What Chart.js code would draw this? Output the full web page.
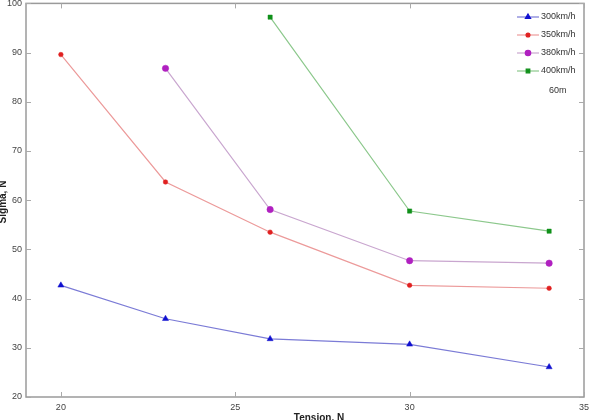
<!DOCTYPE html>
<html>
<head>
<meta charset="utf-8">
<script src="https://cdn.jsdelivr.net/npm/chart.js@4"></script>
<style>
html,body{margin:0;padding:0;background:#fff;overflow:hidden;}
#wrap{width:596px;height:420px;position:relative;overflow:hidden;}
#c{position:absolute;left:0;top:-6px;}
</style>
</head>
<body>
<div id="wrap"><canvas id="c" width="596" height="426"></canvas></div>
<script>
// ---- data ----
const tension = [20, 23, 26, 30, 34];
const s300 = [42.7, 35.9, 31.8, 30.7, 26.1];
const s350 = [89.6, 63.7, 53.5, 42.7, 42.1];
const s380 = [null, 86.8, 58.1, 47.7, 47.2];
const s400 = [null, null, 97.2, 57.8, 53.7];
const seriesNames = ['300km/h', '350km/h', '380km/h', '400km/h'];
const xTicks = [20, 25, 30, 35];
const yTicks = [20, 30, 40, 50, 60, 70, 80, 90, 100];
const xTitle = 'Tension, N';
const yTitle = 'Sigma, N';
const note = '60m';

function pts(arr){ return tension.map((x,i)=>({x:x, y:arr[i]})).filter(p=>p.y!==null); }

const OFF = 6; // canvas vertical offset
const styles = [
  {line:'#7b7bd6', mark:'#1010d0', ps:'triangle', r:3.5},
  {line:'#ec9a9a', mark:'#e02020', ps:'circle', r:2.3},
  {line:'#c9a6cf', mark:'#b020c0', ps:'circle', r:3.2},
  {line:'#8cc88c', mark:'#10901a', ps:'rect', r:3}
];
const allSeries = [s300, s350, s380, s400];

const datasets = allSeries.map((s,i)=>({
  label: seriesNames[i],
  data: pts(s),
  borderColor: styles[i].line,
  borderWidth: 1.2,
  pointStyle: styles[i].ps,
  pointRadius: styles[i].r,
  pointBackgroundColor: styles[i].mark,
  pointBorderColor: styles[i].mark,
  pointBorderWidth: 0.5,
  tension: 0,
  fill: false
}));

const AX = '#9a9a9a';
const FONT = '"Liberation Sans", Arial, sans-serif';

const decor = {
  id: 'decor',
  afterDraw(chart){
    const {ctx, chartArea:a, scales:{x, y}} = chart;
    ctx.save();
    ctx.strokeStyle = AX; ctx.lineWidth = 1.5;
    ctx.strokeRect(a.left, a.top, a.right - a.left, a.bottom - a.top);
    ctx.lineWidth = 1; ctx.strokeStyle = '#aaa';
    const tl = 5;
    xTicks.forEach(v=>{
      const px = Math.round(x.getPixelForValue(v)) + 0.5;
      ctx.beginPath(); ctx.moveTo(px, a.bottom); ctx.lineTo(px, a.bottom - tl); ctx.stroke();
      ctx.beginPath(); ctx.moveTo(px, a.top); ctx.lineTo(px, a.top + tl); ctx.stroke();
    });
    yTicks.forEach(v=>{
      const py = Math.round(y.getPixelForValue(v)) + 0.5;
      ctx.beginPath(); ctx.moveTo(a.left, py); ctx.lineTo(a.left + tl, py); ctx.stroke();
      ctx.beginPath(); ctx.moveTo(a.right, py); ctx.lineTo(a.right - tl, py); ctx.stroke();
    });
    ctx.fillStyle = '#222';
    ctx.font = 'bold 10px ' + FONT;
    ctx.textAlign = 'center'; ctx.textBaseline = 'top';
    ctx.fillText(xTitle, (a.left + a.right) / 2 + 14, 413 + OFF);
    ctx.save();
    ctx.translate(3, 202 + OFF);
    ctx.rotate(-Math.PI/2);
    ctx.textBaseline = 'middle';
    ctx.fillText(yTitle, 0, 0);
    ctx.restore();
    ctx.font = '9px ' + FONT;
    ctx.textAlign = 'left'; ctx.textBaseline = 'middle';
    chart.data.datasets.forEach((ds, i)=>{
      const yy = 17 + i * 18 + OFF;
      ctx.strokeStyle = ds.borderColor; ctx.lineWidth = 1.2;
      ctx.beginPath(); ctx.moveTo(517, yy); ctx.lineTo(539, yy); ctx.stroke();
      ctx.fillStyle = ds.pointBackgroundColor; ctx.strokeStyle = ds.pointBorderColor;
      Chart.helpers.drawPoint(ctx, {pointStyle: ds.pointStyle, radius: ds.pointRadius * 0.85, rotation: 0, borderWidth: 0.5}, 528, yy);
      ctx.fillStyle = '#333';
      ctx.fillText(ds.label, 541, yy);
    });
    ctx.fillText(note, 549, 91 + OFF);
    ctx.restore();
  }
};

new Chart(document.getElementById('c'), {
  type: 'line',
  data: { datasets },
  options: {
    responsive: false,
    animation: false,
    layout: { padding: { left: 0, top: 3, right: 12, bottom: 0 } },
    plugins: { legend: { display: false }, tooltip: { enabled: false } },
    scales: {
      x: {
        type: 'linear', min: 19, max: 35,
        afterBuildTicks: s => { s.ticks = xTicks.map(v => ({value: v})); },
        afterFit: s => { s.height = 23; },
        grid: { display: false, drawTicks: false },
        border: { display: false },
        ticks: { padding: 5, color: '#444', font: { family: FONT, size: 9 }, maxRotation: 0 }
      },
      y: {
        type: 'linear', min: 20, max: 100,
        afterBuildTicks: s => { s.ticks = yTicks.map(v => ({value: v})); },
        afterFit: s => { s.width = 26; },
        grid: { display: false, drawTicks: false },
        border: { display: false },
        ticks: { padding: 4, color: '#444', font: { family: FONT, size: 9 } }
      }
    }
  },
  plugins: [decor]
});
</script>
</body>
</html>
